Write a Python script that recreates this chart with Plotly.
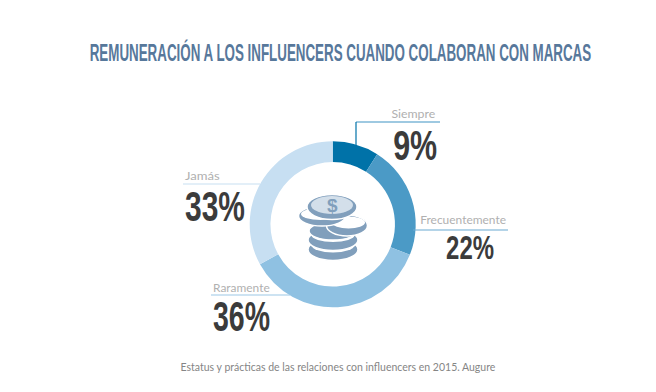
import json
import plotly.graph_objects as go

categories = ["Siempre", "Frecuentemente", "Raramente", "Jamás"]
values = [9, 22, 36, 33]
colors = ["#0072a8", "#4b9ac6", "#8fc1e2", "#c7dff2"]
title = "REMUNERACIÓN A LOS INFLUENCERS CUANDO COLABORAN CON MARCAS"
source = "Estatus y prácticas de las relaciones con influencers en 2015. Augure"

W, H = 656, 392
cx, cy, R = 332.7, 224.3, 83
BOLD = "Liberation Sans"
LIGHT = "Lato"
COIN = "#819fbc"
FACE = "#d3dfea"

fig = go.Figure(go.Pie(
    labels=categories, values=values, hole=0.75, sort=False, direction="clockwise",
    rotation=0, textinfo="none", marker=dict(colors=colors, line=dict(width=0)),
    showlegend=False, hoverinfo="label+percent",
    domain=dict(x=[(cx - R) / W, (cx + R) / W], y=[1 - (cy + R) / H, 1 - (cy - R) / H]),
))

shapes = []
def line(x0, y0, x1, y1, c):
    shapes.append(dict(type="line", xref="x", yref="y", x0=x0, y0=y0, x1=x1, y1=y1,
                       line=dict(color=c, width=1.2)))
def coin(x, y, rx, ry, fill=COIN, edge="white", w=1.5):
    shapes.append(dict(type="circle", xref="x", yref="y", x0=x - rx, x1=x + rx, y0=y - ry, y1=y + ry,
                       fillcolor=fill, line=dict(color=edge, width=w)))

line(356, 122, 440, 122, "#3f94c4")
line(356, 122, 356, 146, "#0072a8")
line(413, 230, 508, 230, "#6aaad2")
line(183, 184, 260, 184, "#c7dff2")
line(211, 295, 290, 295, "#9cc8e6")

# coin stack icon
coin(333, 249.5, 25, 11)
coin(333, 245, 21.5, 7.5, "white", "white", 0)
coin(333, 240, 25, 10.5)
coin(333, 235, 21.5, 7, "white", "white", 0)
coin(333, 231, 24, 9)
coin(347, 225.5, 20.5, 10.5)
coin(348.5, 222.5, 16.5, 6, "white", "white", 0)
coin(322, 216, 23.5, 10)
coin(320.5, 214, 19.5, 6, "white", "white", 0)
coin(332, 207, 25, 12.5)
coin(332, 205, 21, 9, FACE, FACE, 0)

placed = []
def text(x, y, s, size, color, font, width, anchor="left", bold=False):
    fig.add_annotation(xref="x", yref="y", x=x, y=y, text=f"<b>{s}</b>" if bold else s,
                       showarrow=False, xanchor=anchor, yanchor="middle", align=anchor,
                       font=dict(family=font, size=size, color=color))
    placed.append(dict(width=width, anchor=anchor))

text(340, 52.5, title, 24, "#57789b", BOLD, 502, "center", True)
text(338, 366, source, 11, "#858585", LIGHT, 315, "center")
text(332, 205, "$", 19, COIN, BOLD, None, "center", True)

text(437, 113, categories[0], 11, "#b0b0b0", LIGHT, 44, "right")
text(439, 145, f"{values[0]}%", 43, "#3b3b3b", BOLD, 44, "right", True)
text(508, 219, categories[1], 11, "#b0b0b0", LIGHT, 86, "right")
text(496, 247, f"{values[1]}%", 33, "#3b3b3b", BOLD, 48, "right", True)
text(211, 287, categories[2], 11, "#b0b0b0", LIGHT, 57, "left")
text(211, 316.5, f"{values[2]}%", 42, "#3b3b3b", BOLD, 57, "left", True)
text(183, 175, categories[3], 11, "#b0b0b0", LIGHT, 35, "left")
text(183, 206, f"{values[3]}%", 42, "#3b3b3b", BOLD, 60, "left", True)

fig.update_layout(
    width=W, height=H, margin=dict(l=0, r=0, t=0, b=0), paper_bgcolor="white", plot_bgcolor="rgba(0,0,0,0)",
    xaxis=dict(range=[0, W], visible=False, fixedrange=True),
    yaxis=dict(range=[H, 0], visible=False, fixedrange=True),
    shapes=shapes,
)

# Squeeze or stretch each real text horizontally around its anchor, as the narrow display face did.
post = """
document.body.style.margin = '0';
var fit = %s;
document.querySelectorAll('.annotation-text').forEach(function (t, i) {
  var f = fit[i];
  if (!f || !f.width) return;
  var b = t.getBBox();
  var a = f.anchor === 'left' ? b.x : f.anchor === 'right' ? b.x + b.width : b.x + b.width / 2;
  t.setAttribute('transform', 'translate(' + a + ',0) scale(' + (f.width / b.width) + ',1) translate(' + (-a) + ',0)');
});
""" % json.dumps(placed)
fig.write_html("out.html", post_script=post, config=dict(displayModeBar=False))
